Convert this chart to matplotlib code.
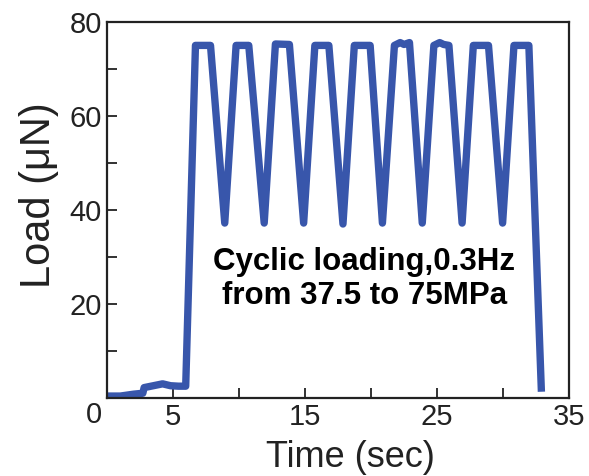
import matplotlib
matplotlib.use("Agg")
import matplotlib.pyplot as plt
import matplotlib.transforms as mtransforms

plt.rcParams['font.family'] = ['Liberation Sans', 'DejaVu Sans']

time_s = [0.0, 1.0, 2.0, 2.7, 2.8, 3.5, 4.2, 4.8, 5.4, 5.95,
          6.69, 7.83, 8.91, 9.77, 10.73, 11.90, 12.75, 13.81, 14.89,
          15.74, 16.80, 17.87, 18.73, 19.93, 20.86, 21.77, 22.2, 22.5,
          22.91, 23.88, 24.76, 25.2, 25.5, 25.90, 26.90, 27.75, 28.9,
          29.97, 30.83, 31.96, 32.9]
load_uN = [0.4, 0.4, 0.8, 1.0, 2.2, 2.6, 3.0, 2.6, 2.5, 2.5,
           75.0, 75.0, 37.2, 75.0, 75.0, 37.2, 75.3, 75.2, 37.2,
           75.0, 75.0, 37.0, 75.0, 75.0, 37.2, 75.0, 75.6, 75.2,
           75.6, 37.2, 75.0, 75.6, 75.2, 75.0, 37.2, 75.0, 75.0,
           37.2, 75.0, 75.0, 2.1]

x_ticks = [0, 5, 15, 25, 35]
x_minor = [10, 20, 30]
y_ticks = [20, 40, 60, 80]
y_minor = [10, 30, 50, 70]

fig = plt.figure(figsize=(5.89, 4.76), dpi=100)
ax = fig.add_axes([0.182, 0.164, 0.784, 0.790])
ax.plot(time_s, load_uN, color='#3856ab', lw=5.3, solid_joinstyle='round')
ax.set_xlim(0, 35)
ax.set_ylim(0, 80)

ax.set_xticks(x_ticks)
ax.set_xticklabels([str(v) for v in x_ticks])
ax.set_xticks(x_minor, minor=True)
ax.set_yticks(y_ticks)
ax.set_yticklabels([str(v) for v in y_ticks])
ax.set_yticks(y_minor, minor=True)
ax.tick_params(which='both', direction='in', length=7, width=1.3,
               color='#222222', labelsize=21, labelcolor='#222222')
ax.tick_params(axis='x', pad=4)
ax.tick_params(axis='y', pad=4)

lab0 = ax.get_xticklabels()[0]
lab0.set_ha('right')
lab0.set_transform(lab0.get_transform() + mtransforms.ScaledTranslation(-5/100, 2/100, fig.dpi_scale_trans))

for s in ax.spines.values():
    s.set_linewidth(1.6)
    s.set_color('#222222')

ax.set_xlabel('Time (sec)', fontsize=26, color='#222222')
ax.xaxis.set_label_coords(0.5 + 12/462, -42/376, transform=ax.transAxes)
ax.xaxis.label.set_va('top')
ax.set_ylabel('Load (μN)', fontsize=30, color='#222222')
ax.yaxis.set_label_coords(-68/462, 0.5 + 15/376, transform=ax.transAxes)
ax.yaxis.label.set_va('center')

ax.text(19.5, 25.3, 'Cyclic loading,0.3Hz\nfrom 37.5 to 75MPa', fontsize=22.5,
        fontweight='bold', ha='center', va='center', linespacing=1.2)

fig.savefig('out.png', dpi=100)
